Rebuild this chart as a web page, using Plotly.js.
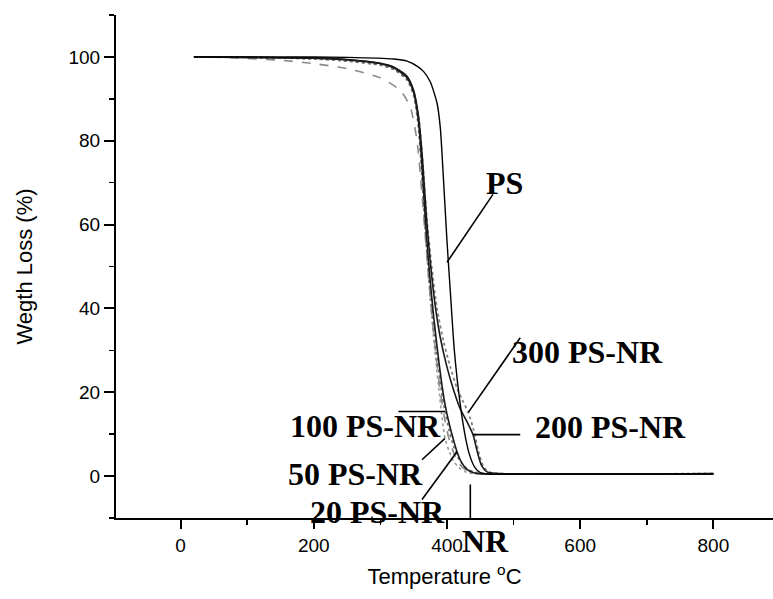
<!DOCTYPE html>
<html>
<head>
<meta charset="utf-8">
<script src="https://cdn.plot.ly/plotly-3.0.1.min.js"></script>
<style>html,body{margin:0;padding:0;background:#fff;}#chart{width:773px;height:599px;}</style>
</head>
<body>
<div id="chart"></div>
<script>
// Temperature (°C) and weight (%)
const PS_T = [20, 150, 250, 320, 340, 355, 365, 375, 385, 390, 395, 400, 405, 411, 420, 428, 434, 442, 450, 460, 550, 800];
const PS_W = [100, 100, 99.9, 99.5, 99.0, 97.8, 96.5, 94, 89, 83, 70, 56, 44, 30, 17, 9, 5, 2, 0.8, 0.5, 0.5, 0.5];

const NR_T = [20, 80, 150, 200, 250, 300, 330, 345, 355, 362, 368, 373, 378, 384, 390, 396, 402, 410, 418, 428, 440, 460, 600, 800];
const NR_W = [100, 99.8, 99.2, 98.4, 97.2, 95, 92, 88, 80, 68, 56, 46, 37, 28, 20, 14, 9.5, 5.5, 3, 1.5, 0.8, 0.5, 0.5, 0.5];

const N20_T = [20, 100, 200, 250, 300, 320, 340, 350, 357, 362, 368, 374, 380, 388, 396, 404, 410, 415, 422, 430, 440, 452, 470, 800];
const N20_W = [100, 99.9, 99.7, 99.3, 98.4, 97.4, 95, 91.5, 85, 75, 60, 48, 38, 27, 18, 12, 8.5, 5.8, 3.2, 1.6, 0.8, 0.5, 0.5, 0.5];

const N50_T = [20, 100, 200, 250, 300, 320, 340, 350, 357, 362, 367, 372, 377, 383, 389, 394, 397, 403, 410, 418, 428, 440, 460, 800];
const N50_W = [100, 99.9, 99.6, 99.1, 98.1, 97, 94.5, 90.5, 83, 72, 59, 48, 38, 28, 19, 12, 9, 6, 3.5, 2, 1, 0.6, 0.5, 0.5];

const N100_T = [20, 100, 200, 250, 300, 320, 340, 350, 357, 362, 368, 374, 380, 386, 392, 397, 403, 410, 418, 428, 440, 460, 800];
const N100_W = [100, 99.9, 99.5, 99, 98, 97, 94.5, 91, 84, 73, 58, 46, 36, 27, 20, 15.4, 11, 7, 4, 2, 1, 0.6, 0.6];

const N200_T = [20, 100, 200, 250, 300, 320, 340, 350, 357, 363, 369, 375, 382, 390, 400, 410, 420, 430, 439, 446, 452, 460, 480, 800];
const N200_W = [100, 99.9, 99.7, 99.4, 98.5, 97.6, 95.4, 92, 86, 76, 62, 51, 41, 33, 26, 20.5, 16, 13, 9.9, 5.5, 2.5, 1, 0.6, 0.6];

const N300_T = [20, 100, 200, 250, 300, 320, 340, 350, 358, 364, 370, 377, 385, 395, 405, 415, 425, 432, 440, 447, 454, 462, 480, 800];
const N300_W = [100, 99.9, 99.6, 99.2, 98.3, 97.3, 95, 91.5, 85, 74, 61, 50, 40, 32, 26, 21, 17.5, 15.2, 11, 6, 2.5, 1, 0.6, 0.6];

const X_TICKS = [0, 200, 400, 600, 800];
const Y_TICKS = [0, 20, 40, 60, 80, 100];

const serif = {family: 'Liberation Serif, Times New Roman, serif', size: 32, color: '#000', weight: 'bold'};

function tr(x, y, color, width, dash) {
  return {x: x, y: y, type: 'scatter', mode: 'lines', showlegend: false, hoverinfo: 'skip',
          line: {color: color, width: width, dash: dash, shape: 'spline', smoothing: 0.6}};
}
const data = [
  tr(NR_T, NR_W, '#8a8a8a', 1.6, 'dash'),
  tr(N50_T, N50_W, '#9a9a9a', 1.6, 'dot'),
  tr(N100_T, N100_W, '#707070', 1.6, 'dot'),
  tr(N300_T, N300_W, '#808080', 1.8, 'dot'),
  tr(N20_T, N20_W, '#1a1a1a', 1.6, 'solid'),
  tr(N200_T, N200_W, '#1a1a1a', 1.6, 'solid'),
  tr(PS_T, PS_W, '#000', 1.4, 'solid')
];

function seg(x0, y0, x1, y1) {
  return {type: 'line', xref: 'x', yref: 'y', x0: x0, y0: y0, x1: x1, y1: y1, line: {color: '#000', width: 1.6}};
}
function lab(text, x, y, anchor, yref) {
  return {text: text, x: x, y: y, xref: 'x', yref: yref || 'y', showarrow: false, xanchor: anchor, yanchor: 'middle', font: serif};
}

const layout = {
  width: 773, height: 599,
  margin: {l: 116, r: 0, t: 15, b: 81},
  paper_bgcolor: '#fff', plot_bgcolor: '#fff',
  font: {family: 'Liberation Sans, Arial, sans-serif', color: '#000'},
  xaxis: {
    range: [-97, 889.5], showgrid: false, zeroline: false,
    showline: true, linecolor: '#000', linewidth: 2,
    tickmode: 'array', tickvals: X_TICKS, ticktext: X_TICKS.map(String),
    ticks: 'outside', ticklen: 9, tickwidth: 2, tickcolor: '#000',
    minor: {dtick: 100, tick0: 0, ticks: 'outside', ticklen: 5, tickwidth: 1.5, tickcolor: '#000'},
    tickfont: {size: 19, color: '#000'},
    title: {text: 'Temperature <sup>o</sup>C', font: {size: 22, color: '#000'}, standoff: 14}
  },
  yaxis: {
    range: [-10, 110], showgrid: false, zeroline: false,
    showline: true, linecolor: '#000', linewidth: 2,
    tickmode: 'array', tickvals: Y_TICKS, ticktext: Y_TICKS.map(String),
    ticks: 'outside', ticklen: 10, tickwidth: 2, tickcolor: '#000',
    minor: {dtick: 10, tick0: 0, ticks: 'outside', ticklen: 5, tickwidth: 1.5, tickcolor: '#000'},
    tickfont: {size: 19, color: '#000'},
    title: {text: 'Wegth Loss (%)', font: {size: 22, color: '#000'}, standoff: 30}
  },
  shapes: [
    seg(469, 67.2, 400, 51),
    seg(510, 33, 432, 15.2),
    seg(439, 9.9, 510, 9.9),
    seg(327, 15.4, 397, 15.4),
    seg(362.5, 3.9, 397, 9.0),
    seg(362.5, -5.6, 415, 5.8),
    seg(435, -2, 435, -10)
  ],
  annotations: [
    lab('PS', 487, 70, 'center'),
    lab('300 PS-NR', 494.7, 29.7, 'left'),
    lab('200 PS-NR', 529, 11.8, 'left'),
    lab('100 PS-NR', 394, 12, 'right'),
    lab('50 PS-NR', 367, 0.4, 'right'),
    lab('20 PS-NR', 400, -8.5, 'right'),
    lab('NR', 420, -0.046, 'left', 'paper')
  ]
};

Plotly.newPlot('chart', data, layout, {staticPlot: true, displayModeBar: false});
</script>
</body>
</html>
